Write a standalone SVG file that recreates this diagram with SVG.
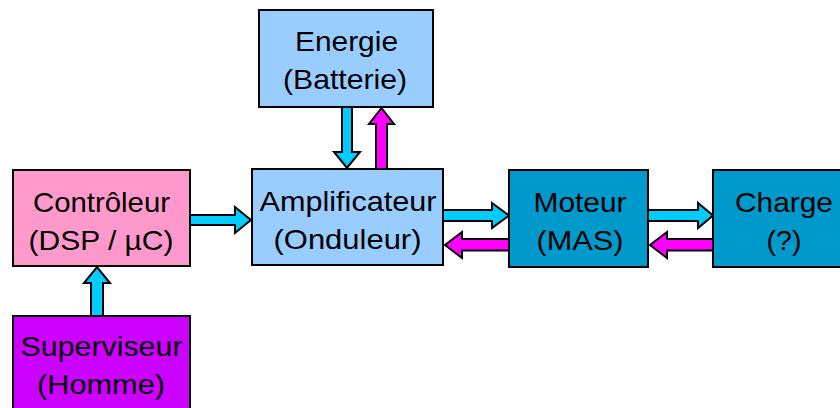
<svg xmlns="http://www.w3.org/2000/svg" width="840" height="408" viewBox="0 0 840 408">
<style>
.box{stroke:#000;stroke-width:2}
.t{font-family:"Liberation Sans",Arial,sans-serif;font-size:28px;fill:#000;text-anchor:middle}
.cy{fill:#00CCFF;stroke:#000;stroke-width:2;stroke-linejoin:miter}
.mg{fill:#FF00FF;stroke:#000;stroke-width:2;stroke-linejoin:miter}
</style>
<rect width="840" height="408" fill="#fff"/>
<g id="connectors">
<polygon class="cy" points="342,107 352,107 352,152 360,152 347,168 334,152 342,152"/>
<polygon class="mg" points="376,170 387,170 387,124 394,124 381.5,108 369,124 376,124"/>
<polygon class="cy" points="190,215 235,215 235,207 251,220 235,233 235,225 190,225"/>
<polygon class="cy" points="443,210 492,210 492,203 509,215.5 492,228 492,221 443,221"/>
<polygon class="mg" points="509,239 462,239 462,232 445,245 462,258 462,250.5 509,250.5"/>
<polygon class="cy" points="648,210 698,210 698,203 713,215.5 698,228 698,221 648,221"/>
<polygon class="mg" points="713,239 667,239 667,232 650,245 667,258 667,250.5 713,250.5"/>
<polygon class="cy" points="91,316 103,316 103,283 110,283 97,267 84,283 91,283"/>
</g>
<g id="energie">
<rect class="box" x="259" y="10" width="174" height="97" fill="#99CCFF"/>
<text class="t" x="346.5" y="50.5" textLength="103" lengthAdjust="spacingAndGlyphs">Energie</text>
<text class="t" x="345" y="88.5" textLength="124" lengthAdjust="spacingAndGlyphs">(Batterie)</text>
</g>
<g id="controleur">
<rect class="box" x="13" y="170" width="177" height="96" fill="#FF99CC"/>
<text class="t" x="101.5" y="211.5" textLength="137" lengthAdjust="spacingAndGlyphs">Contrôleur</text>
<text class="t" x="101" y="249.5" textLength="145" lengthAdjust="spacingAndGlyphs">(DSP / µC)</text>
</g>
<g id="amplificateur">
<rect class="box" x="252" y="169" width="191" height="96" fill="#99CCFF"/>
<text class="t" x="348" y="211" textLength="177" lengthAdjust="spacingAndGlyphs">Amplificateur</text>
<text class="t" x="347.5" y="249" textLength="148" lengthAdjust="spacingAndGlyphs">(Onduleur)</text>
</g>
<g id="moteur">
<rect class="box" x="509" y="170" width="139" height="97" fill="#0099CC"/>
<text class="t" x="580" y="211.5" textLength="93" lengthAdjust="spacingAndGlyphs">Moteur</text>
<text class="t" x="580" y="249.5" textLength="87" lengthAdjust="spacingAndGlyphs">(MAS)</text>
</g>
<g id="charge">
<rect class="box" x="713" y="170" width="142" height="97" fill="#0099CC"/>
<text class="t" x="784" y="211.5" textLength="98" lengthAdjust="spacingAndGlyphs">Charge</text>
<text class="t" x="784" y="249.5" textLength="35" lengthAdjust="spacingAndGlyphs">(?)</text>
</g>
<g id="superviseur">
<rect class="box" x="13" y="316" width="177" height="100" fill="#CC00FF"/>
<text class="t" x="101.5" y="355.5" textLength="162" lengthAdjust="spacingAndGlyphs">Superviseur</text>
<text class="t" x="101" y="393.5" textLength="128" lengthAdjust="spacingAndGlyphs">(Homme)</text>
</g>
</svg>
